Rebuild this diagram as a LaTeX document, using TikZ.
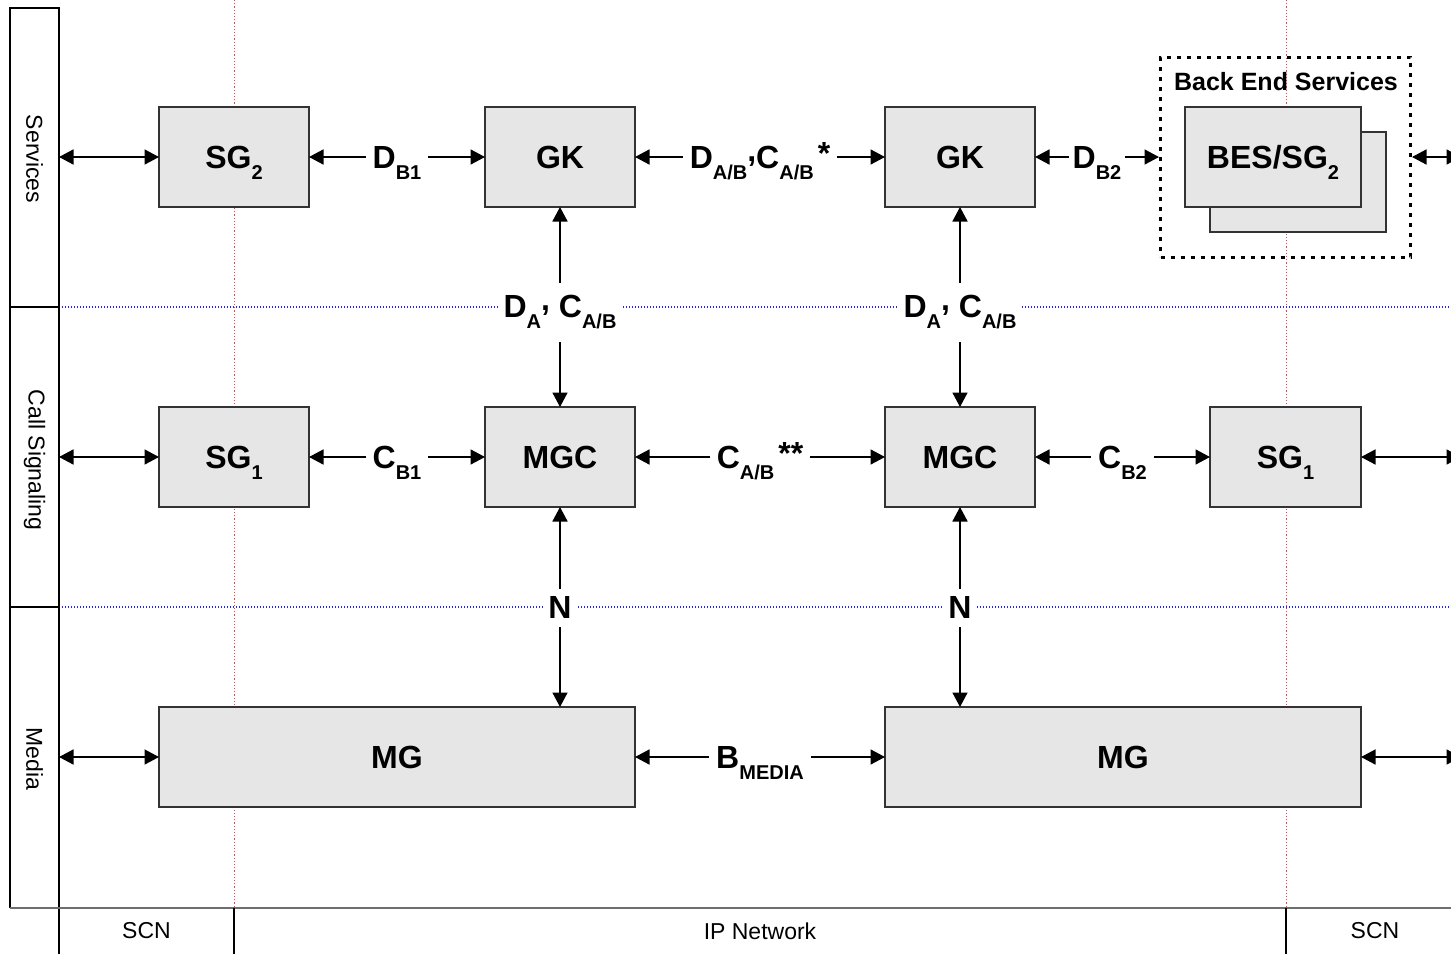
\documentclass[tikz,border=0pt]{standalone}
\usepackage{fontspec}
\setmainfont{Liberation Sans}
\usetikzlibrary{arrows.meta}
\definecolor{boxfill}{HTML}{E6E6E6}
\definecolor{boxline}{HTML}{333333}
\definecolor{zonered}{HTML}{FF3B3B}
\definecolor{planeblue}{HTML}{2424FF}
\definecolor{edgegray}{HTML}{6E6E6E}
% lowered subscript that does not change the label's height
\newcommand{\lo}[1]{\raisebox{-11pt}[0pt][0pt]{\fontsize{20}{20}\selectfont #1}}
% raised asterisks after a label
\newcommand{\hi}[1]{\hspace{4pt}\raisebox{4pt}[0pt][0pt]{#1}}
% comma sitting a little above the baseline
\newcommand{\upcomma}{\raisebox{7pt}[0pt][0pt]{,}}
\begin{document}
\begin{tikzpicture}[x=1pt,y=-1pt,
  unit/.style={draw=boxline, line width=1.2pt, fill=boxfill, minimum width=150pt,
    minimum height=100pt, inner sep=0pt, outer sep=0pt,
    font=\fontsize{32}{32}\selectfont\bfseries},
  link/.style={{Triangle[length=14.5pt,width=15pt]}-{Triangle[length=14.5pt,width=15pt]},
    line width=1.6pt, black},
  tag/.style={fill=white, inner xsep=7pt, inner ysep=4pt,
    font=\fontsize{32}{32}\selectfont\bfseries},
  vtag/.style={fill=white, inner xsep=6pt, inner ysep=6pt,
    font=\fontsize{32}{32}\selectfont\bfseries},
  plane/.style={font=\fontsize{23}{23}\selectfont, rotate=-90},
  zone/.style={font=\fontsize{23}{23}\selectfont},
  frame/.style={line width=1.3pt, black},
  zoneline/.style={zonered, line width=1pt, dash pattern=on 1.2pt off 2pt},
  planeline/.style={planeblue, line width=1.1pt, dash pattern=on 1.2pt off 1.8pt},
  group/.style={draw, line width=3pt, dash pattern=on 4pt off 6pt,
    minimum width=250pt, minimum height=200pt, inner sep=0pt, outer sep=1.5pt}
  ]
\useasboundingbox (0,0) rectangle (1451,954);

% network zone borders
\draw[zoneline] (234,0) -- (234,908);
\draw[zoneline] (1286,0) -- (1286,908);

% plane borders
\draw[planeline] (59,307) -- (1451,307);
\draw[planeline] (59,607) -- (1451,607);

% plane label column and zone strip
\draw[frame] (59,954) -- (59,8) -- (10,8) -- (10,908);
\draw[frame] (10,307) -- (59,307);
\draw[frame] (10,607) -- (59,607);
\draw[edgegray, line width=1.8pt] (10,908) -- (1451,908);
\draw[frame] (234,908) -- (234,954);
\draw[frame] (1286,908) -- (1286,954);

\node[plane] (psvc) at (34.5,159) {Services};
\node[plane] (pcall) at (34.5,460) {Call Signaling};
\node[plane] (pmedia) at (34.5,759) {Media};

\node[zone] (zscn1) at (146.5,931) {SCN};
\node[zone] (zip) at (760,931) {IP Network};
\node[zone] (zscn2) at (1375,931) {SCN};

% free ends at the plane edges
\coordinate (w1) at (59,157);
\coordinate (w2) at (59,457);
\coordinate (w3) at (59,757);
\coordinate (e1) at (1461,157);
\coordinate (e2) at (1461,457);
\coordinate (e3) at (1461,757);

% services plane
\node[unit] (sg2) at (234,157) {SG\lo{2}};
\node[unit] (gk1) at (560,157) {GK};
\node[unit] (gk2) at (960,157) {GK};
\node[group] (bes) at (1285.5,157) {};
\node[font=\fontsize{25}{25}\selectfont\bfseries] (bestitle) at (1286,82) {Back End Services};
\node[unit, minimum width=176pt] (besback) at (1298,182) {};
\node[unit, minimum width=176pt] (besfront) at (1273,157) {BES/SG\lo{2}};

% call signaling plane
\node[unit] (sg1a) at (234,457) {SG\lo{1}};
\node[unit] (mgc1) at (560,457) {MGC};
\node[unit] (mgc2) at (960,457) {MGC};
\node[unit, minimum width=151pt] (sg1b) at (1285.5,457) {SG\lo{1}};

% media plane
\node[unit, minimum width=476pt] (mg1) at (397,757) {MG};
\node[unit, minimum width=476pt] (mg2) at (1123,757) {MG};

% horizontal interfaces
\draw[link] (w1) -- (sg2);
\draw[link] (sg2) -- (gk1) node[tag, midway] {D\lo{B1}};
\draw[link] (gk1) -- (gk2) node[tag, midway] {D\lo{A/B}\upcomma C\lo{A/B}\hi{*}};
\draw[link] (gk2) -- (bes) node[tag, midway, inner xsep=4pt] {D\lo{B2}};
\draw[link] (bes) -- (e1);

\draw[link] (w2) -- (sg1a);
\draw[link] (sg1a) -- (mgc1) node[tag, midway] {C\lo{B1}};
\draw[link] (mgc1) -- (mgc2) node[tag, midway] {C\lo{A/B}\hi{**}};
\draw[link] (mgc2) -- (sg1b) node[tag, midway] {C\lo{B2}};
\draw[link] (sg1b) -- (e2);

\draw[link] (w3) -- (mg1);
\draw[link] (mg1) -- (mg2) node[tag, midway] {B\lo{MEDIA}};
\draw[link] (mg2) -- (e3);

% vertical interfaces
\draw[link] (gk1) -- (mgc1);
\node[vtag, text height=28pt, text depth=19pt] (da1) at (560,312.5) {D\lo{A}\upcomma{} C\lo{A/B}};
\draw[link] (gk2) -- (mgc2);
\node[vtag, text height=28pt, text depth=19pt] (da2) at (960,312.5) {D\lo{A}\upcomma{} C\lo{A/B}};

\draw[link] (mgc1) -- (mgc1 |- mg1.north);
\node[vtag, inner xsep=4pt, inner ysep=8pt] (n1) at (560,607.5) {N};
\draw[link] (mgc2) -- (mgc2 |- mg2.north);
\node[vtag, inner xsep=4pt, inner ysep=8pt] (n2) at (960,607.5) {N};
\end{tikzpicture}
\end{document}
